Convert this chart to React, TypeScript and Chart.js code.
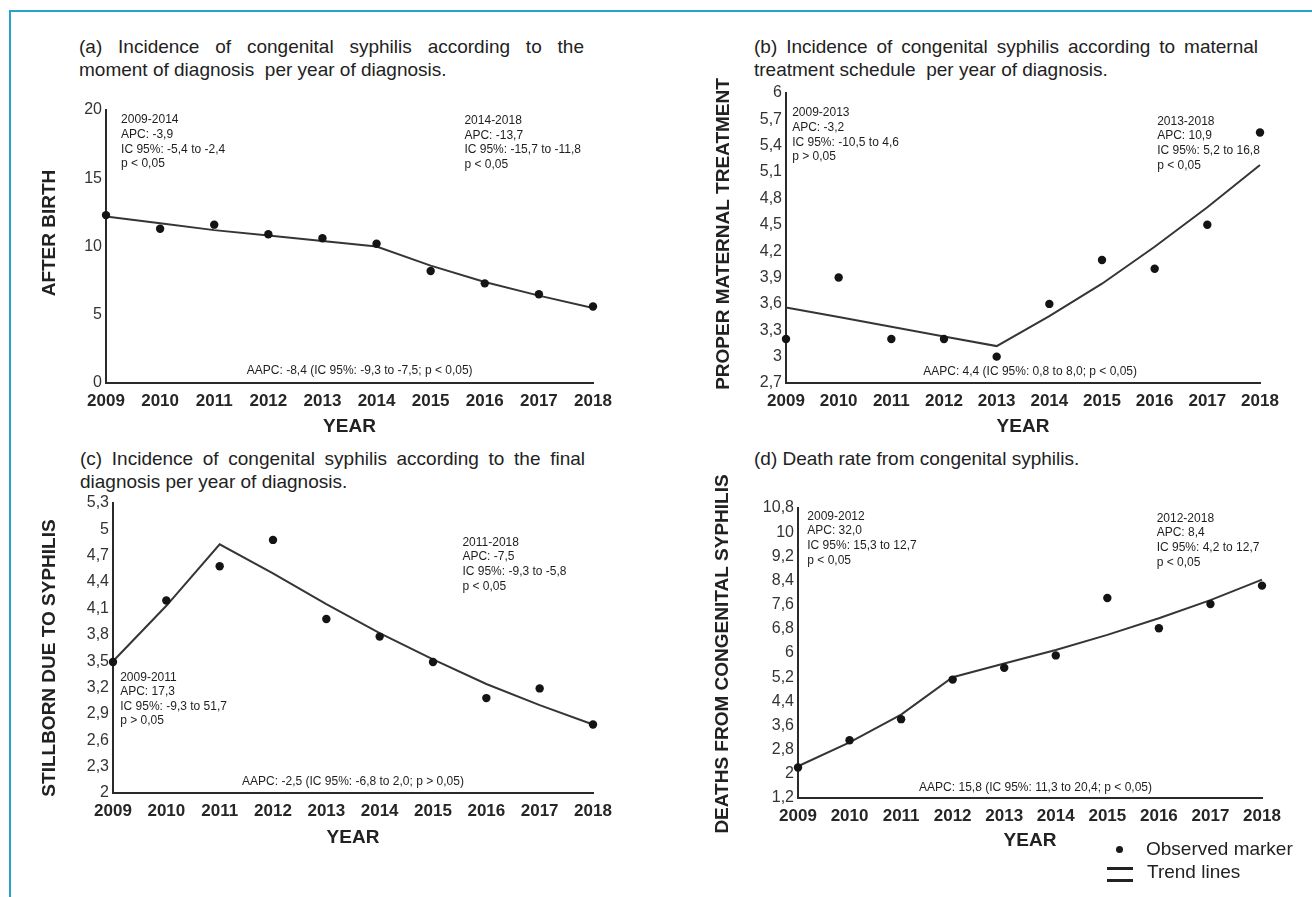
import React, { useEffect, useRef } from "react";
import { Chart, registerables } from "chart.js";

Chart.register(...registerables);

const PAGE_W = 1312;
const PAGE_H = 897;

const YEARS = ["2009", "2010", "2011", "2012", "2013", "2014", "2015", "2016", "2017", "2018"];

// (a) after birth
const A_OBSERVED = [12.3, 11.3, 11.6, 10.9, 10.6, 10.2, 8.2, 7.3, 6.5, 5.6];
const A_TREND = [12.2, 11.7, 11.2, 10.8, 10.4, 10.0, 8.6, 7.4, 6.4, 5.5];
const A_TICKS = [0, 5, 10, 15, 20];

// (b) proper maternal treatment
const B_OBSERVED = [3.2, 3.9, 3.2, 3.2, 3.0, 3.6, 4.1, 4.0, 4.5, 5.55];
const B_TREND = [3.56, 3.45, 3.34, 3.23, 3.12, 3.46, 3.83, 4.25, 4.7, 5.18];
const B_TICKS = [2.7, 3, 3.3, 3.6, 3.9, 4.2, 4.5, 4.8, 5.1, 5.4, 5.7, 6];

// (c) stillborn due to syphilis
const C_OBSERVED = [3.49, 4.19, 4.58, 4.88, 3.98, 3.78, 3.49, 3.08, 3.19, 2.78];
const C_TREND = [3.5, 4.13, 4.83, 4.5, 4.15, 3.82, 3.52, 3.24, 3.0, 2.78];
const C_TICKS = [2, 2.3, 2.6, 2.9, 3.2, 3.5, 3.8, 4.1, 4.4, 4.7, 5, 5.3];

// (d) deaths from congenital syphilis
const D_OBSERVED = [2.21, 3.11, 3.81, 5.12, 5.51, 5.92, 7.82, 6.82, 7.62, 8.23];
const D_TREND = [2.25, 3.04, 3.96, 5.2, 5.65, 6.1, 6.6, 7.15, 7.75, 8.43];
const D_TICKS = [1.2, 2, 2.8, 3.6, 4.4, 5.2, 6, 6.8, 7.6, 8.4, 9.2, 10, 10.8];

// annotation texts
const A_NOTE_LEFT = ["2009-2014", "APC: -3,9", "IC 95%: -5,4 to -2,4", "p < 0,05"];
const A_NOTE_RIGHT = ["2014-2018", "APC: -13,7", "IC 95%: -15,7 to -11,8", "p < 0,05"];
const A_AAPC = "AAPC: -8,4 (IC 95%: -9,3 to -7,5; p < 0,05)";
const B_NOTE_LEFT = ["2009-2013", "APC: -3,2", "IC 95%: -10,5 to 4,6", "p > 0,05"];
const B_NOTE_RIGHT = ["2013-2018", "APC: 10,9", "IC 95%: 5,2 to 16,8", "p < 0,05"];
const B_AAPC = "AAPC: 4,4 (IC 95%: 0,8 to 8,0; p < 0,05)";
const C_NOTE_LEFT = ["2009-2011", "APC: 17,3", "IC 95%: -9,3 to 51,7", "p > 0,05"];
const C_NOTE_RIGHT = ["2011-2018", "APC: -7,5", "IC 95%: -9,3 to -5,8", "p < 0,05"];
const C_AAPC = "AAPC: -2,5 (IC 95%: -6,8 to 2,0; p > 0,05)";
const D_NOTE_LEFT = ["2009-2012", "APC: 32,0", "IC 95%: 15,3 to 12,7", "p < 0,05"];
const D_NOTE_RIGHT = ["2012-2018", "APC: 8,4", "IC 95%: 4,2 to 12,7", "p < 0,05"];
const D_AAPC = "AAPC: 15,8 (IC 95%: 11,3 to 20,4; p < 0,05)";

const FAMILY = '"Liberation Sans", Arial, Helvetica, sans-serif';
const TEXT = "#222222";

type Note = { fx: number; fy: number; lines: string[]; align: CanvasTextAlign };
type Panel = {
  area: { l: number; t: number; r: number; b: number };
  observed: number[];
  trend: number[];
  ticks: number[];
  yTitle: { text: string; x: number; y: number };
  xTitleY: number;
  notes: Note[];
};

const PANELS: Panel[] = [
  {
    area: { l: 106, t: 110, r: 593, b: 383 },
    observed: A_OBSERVED,
    trend: A_TREND,
    ticks: A_TICKS,
    yTitle: { text: "AFTER BIRTH", x: 50, y: 233 },
    xTitleY: 427,
    notes: [
      { fx: 0.031, fy: 0.037, lines: A_NOTE_LEFT, align: "left" },
      { fx: 0.736, fy: 0.04, lines: A_NOTE_RIGHT, align: "left" },
      { fx: 0.521, fy: 0.955, lines: [A_AAPC], align: "center" },
    ],
  },
  {
    area: { l: 786, t: 93, r: 1260, b: 383 },
    observed: B_OBSERVED,
    trend: B_TREND,
    ticks: B_TICKS,
    yTitle: { text: "PROPER MATERNAL TREATMENT", x: 724, y: 234 },
    xTitleY: 427,
    notes: [
      { fx: 0.013, fy: 0.069, lines: B_NOTE_LEFT, align: "left" },
      { fx: 0.783, fy: 0.098, lines: B_NOTE_RIGHT, align: "left" },
      { fx: 0.515, fy: 0.96, lines: [B_AAPC], align: "center" },
    ],
  },
  {
    area: { l: 113, t: 503, r: 593, b: 793 },
    observed: C_OBSERVED,
    trend: C_TREND,
    ticks: C_TICKS,
    yTitle: { text: "STILLBORN DUE TO SYPHILIS", x: 50, y: 658 },
    xTitleY: 838,
    notes: [
      { fx: 0.728, fy: 0.136, lines: C_NOTE_RIGHT, align: "left" },
      { fx: 0.015, fy: 0.601, lines: C_NOTE_LEFT, align: "left" },
      { fx: 0.5, fy: 0.96, lines: [C_AAPC], align: "center" },
    ],
  },
  {
    area: { l: 798, t: 508, r: 1262, b: 798 },
    observed: D_OBSERVED,
    trend: D_TREND,
    ticks: D_TICKS,
    yTitle: { text: "DEATHS FROM CONGENITAL SYPHILIS", x: 723, y: 654 },
    xTitleY: 841,
    notes: [
      { fx: 0.02, fy: 0.029, lines: D_NOTE_LEFT, align: "left" },
      { fx: 0.773, fy: 0.036, lines: D_NOTE_RIGHT, align: "left" },
      { fx: 0.512, fy: 0.963, lines: [D_AAPC], align: "center" },
    ],
  },
];

const fmt = (v: number) => String(Math.round(v * 10) / 10).replace(".", ",");

function decorPlugin(p: Panel) {
  return {
    id: "decor",
    afterDraw(chart: any) {
      const { ctx, chartArea: a } = chart;
      ctx.save();
      ctx.fillStyle = TEXT;
      // y axis title
      ctx.font = `bold 19px ${FAMILY}`;
      ctx.textAlign = "center";
      ctx.textBaseline = "middle";
      ctx.save();
      ctx.translate(p.yTitle.x, p.yTitle.y);
      ctx.rotate(-Math.PI / 2);
      ctx.fillText(p.yTitle.text, 0, 0);
      ctx.restore();
      // x axis title
      ctx.fillText("YEAR", (a.left + a.right) / 2, p.xTitleY);
      // annotations
      ctx.font = `12px ${FAMILY}`;
      ctx.fillStyle = "#1e1e1e";
      for (const n of p.notes) {
        const x = a.left + n.fx * (a.right - a.left);
        const y0 = a.top + n.fy * (a.bottom - a.top);
        ctx.textAlign = n.align;
        n.lines.forEach((line, i) => ctx.fillText(line, x, y0 + i * 14.6));
      }
      ctx.restore();
    },
  };
}

function PanelChart({ p }: { p: Panel }) {
  const ref = useRef<HTMLCanvasElement | null>(null);
  useEffect(() => {
    if (!ref.current) return;
    const chart = new Chart(ref.current, {
      type: "line",
      data: {
        labels: YEARS,
        datasets: [
          {
            label: "Observed marker",
            data: p.observed,
            showLine: false,
            pointRadius: 4.2,
            pointBackgroundColor: "#141414",
            pointBorderWidth: 0,
            borderColor: "#141414",
            clip: false as any,
          },
          {
            label: "Trend lines",
            data: p.trend,
            borderColor: "#353535",
            borderWidth: 2,
            pointRadius: 0,
            tension: 0,
            fill: false,
            clip: false as any,
          },
        ],
      },
      options: {
        responsive: false,
        animation: false,
        events: [],
        layout: { padding: { left: 0, top: p.area.t, right: PAGE_W - p.area.r, bottom: 0 } },
        plugins: { legend: { display: false }, tooltip: { enabled: false }, title: { display: false } },
        scales: {
          x: {
            type: "category",
            offset: false,
            grid: { display: false, drawTicks: false },
            border: { display: true, color: "#2a2a2a", width: 2 },
            ticks: {
              padding: 8,
              autoSkip: false,
              maxRotation: 0,
              color: "#262626",
              font: { family: '"Liberation Sans Narrow", ' + FAMILY, size: 17, weight: "bold" },
            },
            afterFit: (s: any) => {
              s.height = PAGE_H - p.area.b;
              s.paddingLeft = 0;
              s.paddingRight = 0;
            },
          },
          y: {
            type: "linear",
            min: p.ticks[0],
            max: p.ticks[p.ticks.length - 1],
            grid: { display: false, drawTicks: false },
            border: { display: true, color: "#2a2a2a", width: 2 },
            ticks: {
              padding: 4,
              color: "#333333",
              font: { family: FAMILY, size: 16 },
              callback: (v: any) => fmt(Number(v)),
            },
            afterBuildTicks: (s: any) => {
              s.ticks = p.ticks.map((v) => ({ value: v }));
            },
            afterFit: (s: any) => {
              s.width = p.area.l;
              s.paddingTop = 0;
              s.paddingBottom = 0;
            },
          },
        },
      } as any,
      plugins: [decorPlugin(p)],
    });
    return () => chart.destroy();
  }, [p]);
  return (
    <canvas
      ref={ref}
      width={PAGE_W}
      height={PAGE_H}
      style={{ position: "absolute", left: 0, top: 0, width: PAGE_W, height: PAGE_H }}
    />
  );
}

const titleStyle: React.CSSProperties = {
  position: "absolute",
  fontFamily: FAMILY,
  fontSize: 19,
  lineHeight: "22px",
  color: TEXT,
  margin: 0,
};

export default function App() {
  return (
    <div
      style={{
        position: "absolute",
        left: 0,
        top: 0,
        width: PAGE_W,
        height: PAGE_H,
        background: "#ffffff",
        overflow: "hidden",
      }}
    >
      <div
        style={{
          position: "absolute",
          left: 9,
          top: 10,
          width: PAGE_W - 9,
          height: PAGE_H - 10,
          borderTop: "2px solid #27a2c8",
          borderLeft: "2px solid #27a2c8",
          boxSizing: "border-box",
        }}
      />
      <div style={{ ...titleStyle, left: 79, top: 36, width: 505, textAlign: "justify", textAlignLast: "justify" }}>
        (a) Incidence of congenital syphilis according to the
      </div>
      <div style={{ ...titleStyle, left: 79, top: 59, whiteSpace: "pre" }}>
        {"moment of diagnosis  per year of diagnosis."}
      </div>
      <div style={{ ...titleStyle, left: 754, top: 36, width: 504, textAlign: "justify", textAlignLast: "justify" }}>
        (b) Incidence of congenital syphilis according to maternal
      </div>
      <div style={{ ...titleStyle, left: 754, top: 59, whiteSpace: "pre" }}>
        {"treatment schedule  per year of diagnosis."}
      </div>
      <div style={{ ...titleStyle, left: 80, top: 448, width: 505, textAlign: "justify", textAlignLast: "justify" }}>
        (c) Incidence of congenital syphilis according to the final
      </div>
      <div style={{ ...titleStyle, left: 80, top: 471, whiteSpace: "pre" }}>
        {"diagnosis per year of diagnosis."}
      </div>
      <div style={{ ...titleStyle, left: 754, top: 448, whiteSpace: "pre" }}>
        {"(d) Death rate from congenital syphilis."}
      </div>

      {PANELS.map((p, i) => (
        <PanelChart key={i} p={p} />
      ))}

      {/* legend */}
      <div
        style={{
          position: "absolute",
          left: 1116,
          top: 846,
          width: 7,
          height: 7,
          borderRadius: "50%",
          background: "#1a1a1a",
        }}
      />
      <div style={{ ...titleStyle, left: 1146, top: 838, whiteSpace: "pre" }}>Observed marker</div>
      <div style={{ position: "absolute", left: 1107, top: 867, width: 26, height: 2.5, background: "#222" }} />
      <div style={{ position: "absolute", left: 1107, top: 879, width: 26, height: 2.5, background: "#222" }} />
      <div style={{ ...titleStyle, left: 1147, top: 861, whiteSpace: "pre" }}>Trend lines</div>
    </div>
  );
}
